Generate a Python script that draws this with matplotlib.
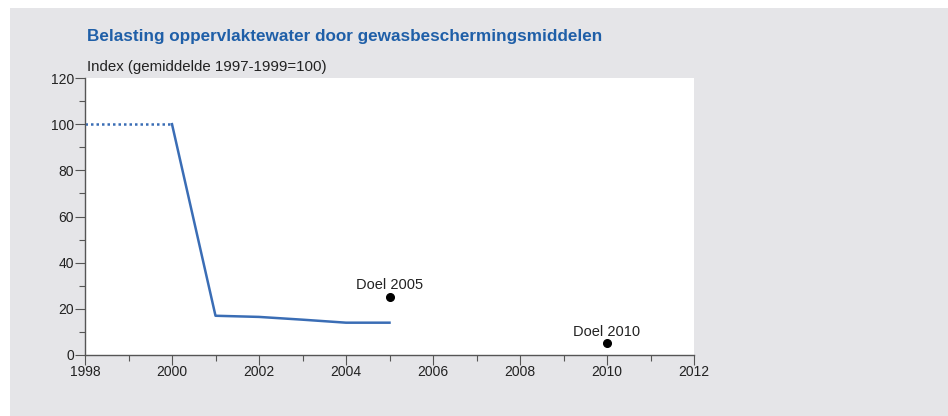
import numpy as np
import matplotlib.pyplot as plt
from matplotlib.patches import Rectangle
from matplotlib.ticker import MultipleLocator

plt.rcParams['font.family'] = ['Liberation Sans', 'DejaVu Sans']

# data
years_base = [1998, 2000]
index_base = [100, 100]
years = [2000, 2001, 2002, 2003, 2004, 2005]
index = [100, 17, 16.5, 15.3, 14, 14]
goal_years = [2005, 2010]
goal_values = [25, 5]
goal_labels = ['Doel 2005', 'Doel 2010']

bg = '#e5e5e8'
blue = '#3a6db5'

fig = plt.figure(figsize=(9.48, 4.16), dpi=100)
fig.patch.set_facecolor('white')
fig.patches.append(Rectangle((10 / 948, 0), 1, 1 - 8 / 416, transform=fig.transFigure,
                             facecolor=bg, edgecolor='none', zorder=-10))

ax = fig.add_axes([85 / 948, 1 - 355 / 416, (694 - 85) / 948, (355 - 78) / 416])
ax.set_facecolor('white')

ax.plot(years_base, index_base, color=blue, lw=1.8, ls=(0, (1, 1.2)), solid_capstyle='butt')
ax.plot(years, index, color=blue, lw=1.8)
ax.plot(goal_years, goal_values, 'o', color='black', ms=5.5, ls='none', clip_on=False)
for x, y, lab in zip(goal_years, goal_values, goal_labels):
    ax.annotate(lab, (x, y), xytext=(0, 3.5), textcoords='offset points',
                ha='center', va='bottom', fontsize=10.5, color='#222222')

ax.set_xlim(1998, 2012)
ax.set_ylim(0, 120)
ax.xaxis.set_major_locator(MultipleLocator(2))
ax.xaxis.set_minor_locator(MultipleLocator(1))
ax.yaxis.set_major_locator(MultipleLocator(20))
ax.yaxis.set_minor_locator(MultipleLocator(10))
ax.tick_params(which='major', length=7, width=0.8, color='#555555', labelsize=10,
               labelcolor='#222222', pad=1)
ax.tick_params(axis='x', which='major', pad=0)
ax.tick_params(which='minor', length=4, width=0.8, color='#555555')
for s in ['top', 'right']:
    ax.spines[s].set_visible(False)
for s in ['left', 'bottom']:
    ax.spines[s].set_color('#555555')
    ax.spines[s].set_linewidth(1.0)

fig.text(87 / 948, 1 - 37 / 416, 'Belasting oppervlaktewater door gewasbeschermingsmiddelen',
         fontsize=12.3, fontweight='bold', color='#1f5fa8', va='center', ha='left')
fig.text(87 / 948, 1 - 67 / 416, 'Index (gemiddelde 1997-1999=100)',
         fontsize=10.8, color='#222222', va='center', ha='left')

fig.savefig('out.png', dpi=100)
